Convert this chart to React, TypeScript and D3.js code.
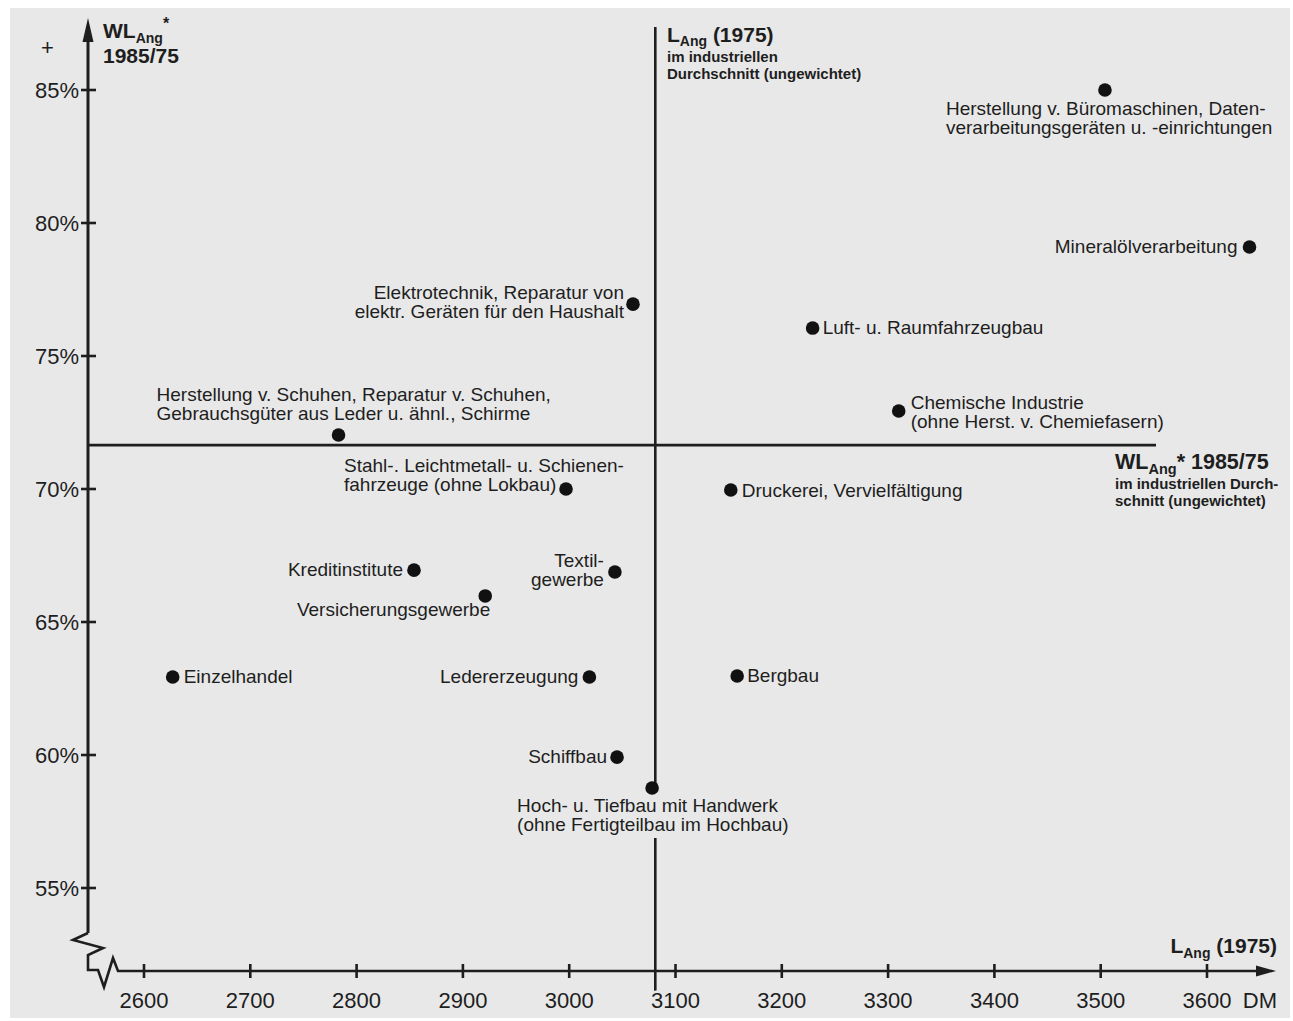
import * as d3 from 'd3';

// Branchen: Label-Zeilen, Angestelltenlohn 1975 (DM), Wachstum 1985/75 (%)
const sectorLabels: string[][] = [
  ['Herstellung v. Büromaschinen, Daten-', 'verarbeitungsgeräten u. -einrichtungen'],
  ['Mineralölverarbeitung'],
  ['Elektrotechnik, Reparatur von', 'elektr. Geräten für den Haushalt'],
  ['Luft- u. Raumfahrzeugbau'],
  ['Chemische Industrie', '(ohne Herst. v. Chemiefasern)'],
  ['Herstellung v. Schuhen, Reparatur v. Schuhen,', 'Gebrauchsgüter aus Leder u. ähnl., Schirme'],
  ['Stahl-. Leichtmetall- u. Schienen-', 'fahrzeuge (ohne Lokbau)'],
  ['Druckerei, Vervielfältigung'],
  ['Kreditinstitute'],
  ['Versicherungsgewerbe'],
  ['Textil-', 'gewerbe'],
  ['Einzelhandel'],
  ['Ledererzeugung'],
  ['Bergbau'],
  ['Schiffbau'],
  ['Hoch- u. Tiefbau mit Handwerk', '(ohne Fertigteilbau im Hochbau)'],
];
const wage1975 = [3504, 3640, 3060, 3229, 3310, 2783, 2997, 3152, 2854, 2921, 3043, 2627, 3019, 3158, 3045, 3078];
const growth8575 = [85.0, 79.1, 76.95, 76.05, 72.93, 72.03, 70.0, 69.96, 66.95, 65.98, 66.88, 62.93, 62.93, 62.97, 59.92, 58.76];

// industrieller Durchschnitt (ungewichtet)
const avgWage = 3081;
const avgGrowth = 71.65;

const xTicks = [2600, 2700, 2800, 2900, 3000, 3100, 3200, 3300, 3400, 3500, 3600];
const yTicks = [55, 60, 65, 70, 75, 80, 85];

// label placement relative to the dot: anchor, dx, dy of first baseline
const labelPlace: [string, number, number][] = [
  ['start', -159, 25],
  ['end', -12, 6],
  ['end', -9, -5],
  ['start', 10, 6],
  ['start', 12, -2],
  ['start', -182, -34],
  ['start', -222, -17],
  ['start', 11, 7],
  ['end', -11, 6],
  ['end', 5, 20],
  ['end', -11, -5],
  ['start', 11, 6],
  ['end', -11, 6],
  ['start', 10, 6],
  ['end', -10, 6],
  ['start', -135, 24],
];

const W = 1293;
const H = 1021;
const font = '"Liberation Sans", Arial, Helvetica, sans-serif';
const ink = '#1e1e1e';
const paper = '#e8e8e8';

// text with a paper-coloured halo so lines pass behind it
const halo = { stroke: paper, strokeWidth: 5, paintOrder: 'stroke' as const, strokeLinejoin: 'round' as const };

export default function App() {
  const x = d3.scaleLinear().domain([2600, 3600]).range([144, 1207]);
  const y = d3.scaleLinear().domain([55, 85]).range([888, 90]);

  const ax = 88; // y-axis position
  const ay = 971; // x-axis position

  // the average line is interrupted by the Hoch-/Tiefbau label
  const gapTop = y(growth8575[15]);
  const gapBottom = gapTop + 50;

  const brk = d3.line()([
    [ax, 933],
    [ax - 15, 940],
    [ax + 15, 948],
    [ax, 955],
    [ax, 970],
    [ax + 10, 970],
    [ax + 16, 987],
    [ax + 25, 958],
    [ax + 30, ay],
    [1262, ay],
  ]);

  return (
    <svg
      width={W}
      height={H}
      style={{ position: 'absolute', left: 0, top: 0, display: 'block' }}
      fontFamily={font}
    >
      <rect width={W} height={H} fill="#fff" />
      <rect x={10} y={8} width={1280} height={1010} fill={paper} />

      {/* average cross */}
      <line x1={x(avgWage)} x2={x(avgWage)} y1={27} y2={gapTop} stroke={ink} strokeWidth={2.6} />
      <line x1={x(avgWage)} x2={x(avgWage)} y1={gapBottom} y2={1003} stroke={ink} strokeWidth={2.6} />
      <line x1={ax} x2={1156} y1={y(avgGrowth)} y2={y(avgGrowth)} stroke={ink} strokeWidth={2.6} />

      {/* y axis */}
      <line x1={ax} x2={ax} y1={933} y2={38} stroke={ink} strokeWidth={3} />
      <path d={`M${ax},18 L${ax - 5.5},42 L${ax + 5.5},42 Z`} fill={ink} />
      <path d={brk ?? ''} fill="none" stroke={ink} strokeWidth={2.6} strokeLinejoin="miter" />
      <path d={`M1276,${ay} L1256,${ay - 5.5} L1256,${ay + 5.5} Z`} fill={ink} />

      {yTicks.map((t) => (
        <g key={t}>
          <line x1={ax - 7} x2={ax + 8} y1={y(t)} y2={y(t)} stroke={ink} strokeWidth={2.6} />
          <text x={ax - 9} y={y(t) + 8} textAnchor="end" fontSize={22} fill={ink}>
            {t}%
          </text>
        </g>
      ))}
      {xTicks.map((t) => (
        <g key={t}>
          <line x1={x(t)} x2={x(t)} y1={ay - 7} y2={ay + 7} stroke={ink} strokeWidth={2.6} />
          <text x={x(t)} y={ay + 37} textAnchor="middle" fontSize={22} fill={ink} {...halo}>
            {t}
          </text>
        </g>
      ))}
      <text x={1277} y={ay + 37} textAnchor="end" fontSize={22} fill={ink}>
        DM
      </text>

      {/* axis titles */}
      <text x={41} y={55} fontSize={22} fill={ink}>+</text>
      <text x={103} y={38} fontSize={21} fontWeight="bold" fill={ink}>
        WL<tspan fontSize={14} dy={5}>Ang</tspan>
        <tspan fontSize={16} dy={-14}>*</tspan>
      </text>
      <text x={103} y={63} fontSize={21} fontWeight="bold" fill={ink}>
        1985/75
      </text>

      <text x={667} y={42} fontSize={21} fontWeight="bold" fill={ink}>
        L<tspan fontSize={14} dy={4}>Ang</tspan>
        <tspan dy={-4}> (1975)</tspan>
      </text>
      <text x={667} y={62} fontSize={15} fontWeight="bold" fill={ink}>
        im industriellen
      </text>
      <text x={667} y={79} fontSize={15} fontWeight="bold" fill={ink}>
        Durchschnitt (ungewichtet)
      </text>

      <text x={1115} y={469} fontSize={21.5} fontWeight="bold" fill={ink}>
        WL<tspan fontSize={14.5} dy={5}>Ang</tspan>
        <tspan dy={-5}>* 1985/75</tspan>
      </text>
      <text x={1115} y={489} fontSize={15} fontWeight="bold" fill={ink}>
        im industriellen Durch-
      </text>
      <text x={1115} y={506} fontSize={15} fontWeight="bold" fill={ink}>
        schnitt (ungewichtet)
      </text>

      <text x={1277} y={953} textAnchor="end" fontSize={21} fontWeight="bold" fill={ink}>
        L<tspan fontSize={14} dy={5}>Ang</tspan>
        <tspan dy={-5}> (1975)</tspan>
      </text>

      {/* sectors */}
      {sectorLabels.map((lines, i) => {
        const cx = x(wage1975[i]);
        const cy = y(growth8575[i]);
        const [anchor, dx, dy] = labelPlace[i];
        return (
          <g key={i}>
            {lines.map((ln, j) => (
              <text
                key={j}
                x={cx + dx}
                y={cy + dy + j * 19}
                textAnchor={anchor}
                fontSize={19}
                fill={ink}
                {...halo}
              >
                {ln}
              </text>
            ))}
            <circle cx={cx} cy={cy} r={6.8} fill="#111" />
          </g>
        );
      })}
    </svg>
  );
}
